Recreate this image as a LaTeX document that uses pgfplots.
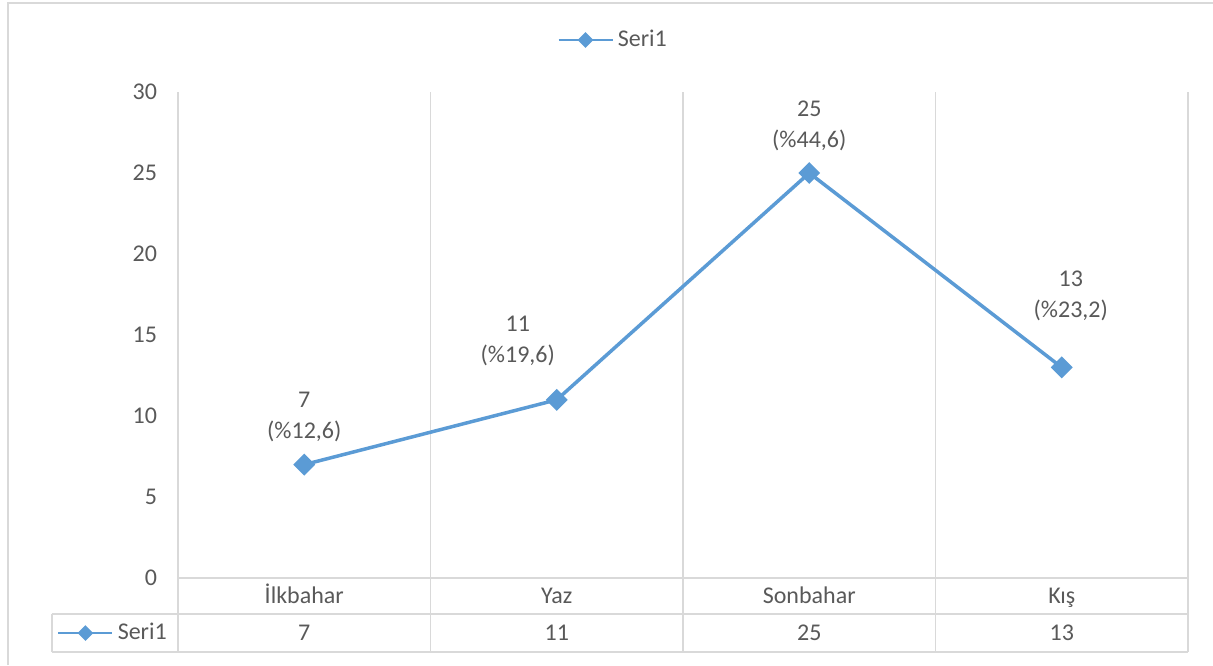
\documentclass[border=0pt]{standalone}
\usepackage{pgfplots}
\usepackage{pgfplotstable}
\pgfplotsset{compat=1.18}
\usepackage{fontspec}
\setmainfont{Carlito}
\definecolor{seri}{HTML}{5B9BD5}
\definecolor{txt}{HTML}{595959}
\definecolor{gridc}{HTML}{D9D9D9}
\pgfplotsset{
  serikey/.style={
    legend image code/.code={
      \draw[mark repeat=2,mark phase=2,##1,line width=1.3pt,mark size=2.1pt]
        plot coordinates {(0pt,0pt) (13.5pt,0pt) (27pt,0pt)};
    },
  },
}
\pgfplotstableread[col sep=comma]{
x,y,lab,dx,dy
0.5,7,{7\\(\%12,6)},0,0
1.5,11,{11\\(\%19,6)},-19.5,6
2.5,25,{25\\(\%44,6)},0,0
3.5,13,{13\\(\%23,2)},4.5,12
}\seridata
\begin{document}
\begin{tikzpicture}
\useasboundingbox (-89pt,-43.5pt) rectangle (517.5pt,289pt);
\draw[gridc, line width=0.75pt] (-85pt,-43.5pt) -- (-85pt,287.5pt) -- (517.5pt,287.5pt);
% table lines
\draw[gridc, line width=0.6pt] (0pt,0pt) -- (505pt,0pt);
\draw[gridc, line width=0.6pt] (-63pt,-18pt) -- (505pt,-18pt);
\draw[gridc, line width=0.6pt] (-63pt,-37pt) -- (505pt,-37pt);
\draw[gridc, line width=0.6pt] (-63pt,-18pt) -- (-63pt,-37pt);
\foreach \xx in {0,126.25,252.5,378.75,505} {
  \draw[gridc, line width=0.6pt] (\xx pt,0pt) -- (\xx pt,-37pt);
}
\begin{axis}[
  at={(0,0)}, anchor=south west,
  scale only axis, width=505pt, height=243pt,
  xmin=0, xmax=4, ymin=0, ymax=30,
  axis line style={draw=none},
  xtick={0.5,1.5,2.5,3.5},
  xticklabels={İlkbahar,Yaz,Sonbahar,Kış},
  extra x ticks={0.5,1.5,2.5,3.5},
  extra x tick labels={7,11,25,13},
  extra x tick style={xticklabel style={yshift=-18.5pt}},
  minor xtick={0,1,2,3,4},
  xminorgrids=true,
  minor grid style={gridc, line width=0.6pt},
  ytick={0,5,...,30},
  major tick length=0pt, minor tick length=0pt,
  tick label style={font=\fontsize{12}{14}\selectfont, text=txt},
  /pgf/number format/assume math mode=true,
  yticklabel style={xshift=-7pt},
  xticklabel style={anchor=base, yshift=-12.5pt},
  clip=false,
  legend style={at={(rel axis cs:0.4317,1.107)}, anchor=center, draw=none,
    fill=none, font=\fontsize{12}{14}\selectfont, text=txt},
  serikey,
  nodes near coords,
  point meta=explicit symbolic,
  visualization depends on={\thisrow{dx} \as \labdx},
  visualization depends on={\thisrow{dy} \as \labdy},
  every node near coord/.append style={align=center,
    font=\fontsize{12}{15.5}\selectfont, text=txt, anchor=south,
    xshift=\labdx pt, yshift=7pt+\labdy pt},
]
\addplot[seri, line width=1.75pt, mark=square*, mark size=3pt,
  mark options={rotate=45, solid}]
  table[x=x, y=y, meta=lab] {\seridata};
\addlegendentry{Seri1}
\end{axis}
\begin{axis}[
  at={(0,0)}, anchor=south west,
  scale only axis, width=505pt, height=243pt,
  hide axis, xmin=0, xmax=1, ymin=0, ymax=1,
  legend style={at={(rel axis cs:-0.0634,-0.1132)}, anchor=center, draw=none,
    fill=none, font=\fontsize{12}{14}\selectfont, text=txt},
  serikey,
]
\addlegendimage{seri, line width=1.75pt, mark=square*, mark size=3pt,
  mark options={rotate=45, solid}}
\addlegendentry{Seri1}
\end{axis}
\end{tikzpicture}
\end{document}
